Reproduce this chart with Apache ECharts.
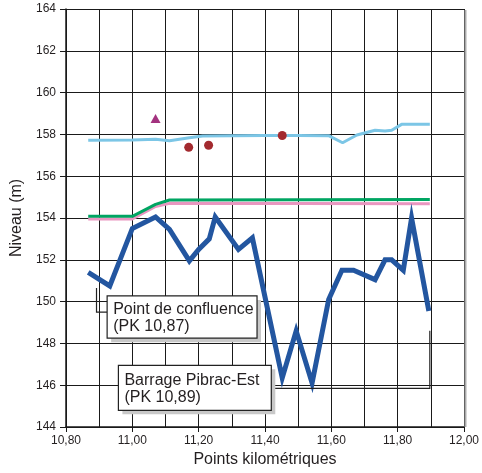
<!DOCTYPE html>
<html><head><meta charset="utf-8">
<script src="https://cdn.jsdelivr.net/npm/echarts@6/dist/echarts.min.js"></script>
<style>html,body{margin:0;padding:0;background:#fff}#c{width:482px;height:473px}</style>
</head><body><div id="c"></div>
<script>
// Data
const fondPK     = [10.867, 10.932, 11.00, 11.07, 11.112, 11.172, 11.20, 11.232, 11.25, 11.32, 11.362, 11.452, 11.494, 11.542, 11.592, 11.632, 11.667, 11.732, 11.762, 11.782, 11.817, 11.842, 11.894];
const fondNiv    = [151.4, 150.75, 153.5, 154.05, 153.45, 151.95, 152.5, 153.0, 154.05, 152.5, 153.05, 146.35, 148.6, 146.1, 150.1, 151.5, 151.5, 151.05, 152.0, 152.0, 151.5, 154.0, 149.55];
const crue1PK    = [10.867, 11.00, 11.07, 11.112, 11.172, 11.212, 11.30, 11.40, 11.50, 11.592, 11.634, 11.677, 11.732, 11.762, 11.782, 11.812, 11.897];
const crue1Niv   = [157.72, 157.73, 157.77, 157.7, 157.84, 157.92, 157.94, 157.95, 157.95, 157.94, 157.6, 157.97, 158.2, 158.16, 158.2, 158.48, 158.49];
const vertPK     = [10.867, 11.00, 11.07, 11.112, 11.897];
const vertNiv    = [154.08, 154.08, 154.65, 154.86, 154.88];
const rosePK     = [10.867, 11.00, 11.07, 11.112, 11.897];
const roseNiv    = [153.95, 153.95, 154.55, 154.7, 154.68];
const trianglePK = [11.07];
const triangleNiv= [158.76];
const pointsPK   = [11.17, 11.23, 11.452];
const pointsNiv  = [157.38, 157.48, 157.95];
const xTicks = {min: 10.8, max: 12.0, step: 0.2};
const yTicks = {min: 144, max: 164, step: 2};
const notes = [
  {text: 'Point de confluence\n(PK 10,87)'},
  {text: 'Barrage Pibrac-Est\n(PK 10,89)'}
];

const zip = (a, b) => a.map((v, i) => [v, b[i]]);
const FONT = '"Liberation Sans", Arial, sans-serif';
const GRIDC = '#1a1a1a';
const TXT = '#231f20';

const chart = echarts.init(document.getElementById('c'), null, {renderer: 'canvas'});
const option = {
  animation: false,
  backgroundColor: '#fff',
  grid: {left: 66, right: 15, top: 9, bottom: 43, show: false},
  xAxis: {
    type: 'value', min: xTicks.min, max: xTicks.max, interval: xTicks.step,
    name: 'Points kilométriques', nameLocation: 'middle', nameGap: 25,
    nameTextStyle: {fontFamily: FONT, fontSize: 16, color: TXT},
    axisLine: {show: true, onZero: false, lineStyle: {color: GRIDC, width: 1.5}},
    axisTick: {show: true, length: 5, lineStyle: {color: GRIDC}},
    axisLabel: {fontFamily: FONT, fontSize: 12, color: TXT, margin: 8,
      formatter: v => v.toFixed(2).replace('.', ',')},
    splitLine: {show: true, lineStyle: {color: GRIDC, width: 1}},
    minorTick: {show: false, splitNumber: 2},
    minorSplitLine: {show: true, lineStyle: {color: GRIDC, width: 1}}
  },
  yAxis: {
    type: 'value', min: yTicks.min, max: yTicks.max, interval: yTicks.step,
    name: 'Niveau (m)', nameLocation: 'middle', nameGap: 37,
    nameTextStyle: {fontFamily: FONT, fontSize: 16, color: TXT},
    axisLine: {show: true, onZero: false, lineStyle: {color: GRIDC, width: 1.5}},
    axisTick: {show: true, length: 6, lineStyle: {color: GRIDC}},
    axisLabel: {fontFamily: FONT, fontSize: 12, color: TXT, margin: 10},
    splitLine: {show: true, lineStyle: {color: GRIDC, width: 1}}
  },
  series: [
    {type: 'line', data: zip(rosePK, roseNiv), symbol: 'none', lineStyle: {color: '#e996c0', width: 3}, z: 3},
    {type: 'line', data: zip(vertPK, vertNiv), symbol: 'none', lineStyle: {color: '#00a562', width: 3}, z: 4},
    {type: 'line', data: zip(crue1PK, crue1Niv), symbol: 'none', lineStyle: {color: '#7cc6e6', width: 3}, z: 4},
    {type: 'line', data: zip(fondPK, fondNiv), symbol: 'none', lineStyle: {color: '#2356a0', width: 5, join: 'miter'}, z: 5},
    {type: 'scatter', data: zip(trianglePK, triangleNiv), symbol: 'triangle', symbolSize: [10, 9], itemStyle: {color: '#a3327f', opacity: 1}, z: 6},
    {type: 'scatter', data: zip(pointsPK, pointsNiv), symbol: 'circle', symbolSize: 9, itemStyle: {color: '#a32a2f', opacity: 1}, z: 6}
  ]
};
chart.setOption(option);

// annotation boxes (layout in data space)
const P = (x, y) => chart.convertToPixel({gridIndex: 0}, [x, y]);
function box(x0, y0, x1, y1, text) {
  const a = P(x0, y0), b = P(x1, y1);
  const w = b[0] - a[0], h = b[1] - a[1];
  return [
    {type: 'rect', shape: {x: a[0] + 4, y: a[1] + 4, width: w, height: h}, style: {fill: '#c8c8c8'}, z: 20},
    {type: 'rect', shape: {x: a[0], y: a[1], width: w, height: h}, style: {fill: '#fff', stroke: '#222', lineWidth: 1.2}, z: 21},
    {type: 'text', x: a[0] + 6, y: a[1] + h / 2 + 1, style: {text: text, font: '16px ' + FONT, fill: TXT, verticalAlign: 'middle', lineHeight: 17}, z: 22}
  ];
}
const g = [];
const frameR = P(xTicks.max, yTicks.max), frameB = P(xTicks.max, yTicks.min);
g.push({type: 'line', shape: {x1: frameR[0] + 1.5, y1: frameR[1] + 1, x2: frameB[0] + 1.5, y2: frameB[1]}, style: {stroke: '#aaa', lineWidth: 2}, z: 1});
g.push(...box(10.924, 150.27, 11.376, 148.25, notes[0].text));
g.push(...box(10.958, 146.95, 11.419, 144.8, notes[1].text));
// connectors
const c1a = P(10.892, 150.65), c1b = P(10.892, 149.5), c1c = P(10.924, 149.5);
g.push({type: 'polyline', shape: {points: [c1a, c1b, c1c]}, style: {stroke: '#222', lineWidth: 1.2, fill: null}, z: 19});
const c2a = P(11.419, 145.85), c2b = P(11.897, 145.85), c2c = P(11.897, 148.6);
g.push({type: 'polyline', shape: {points: [c2a, c2b, c2c]}, style: {stroke: '#222', lineWidth: 1.2, fill: null}, z: 19});
chart.setOption({graphic: g});
</script></body></html>
